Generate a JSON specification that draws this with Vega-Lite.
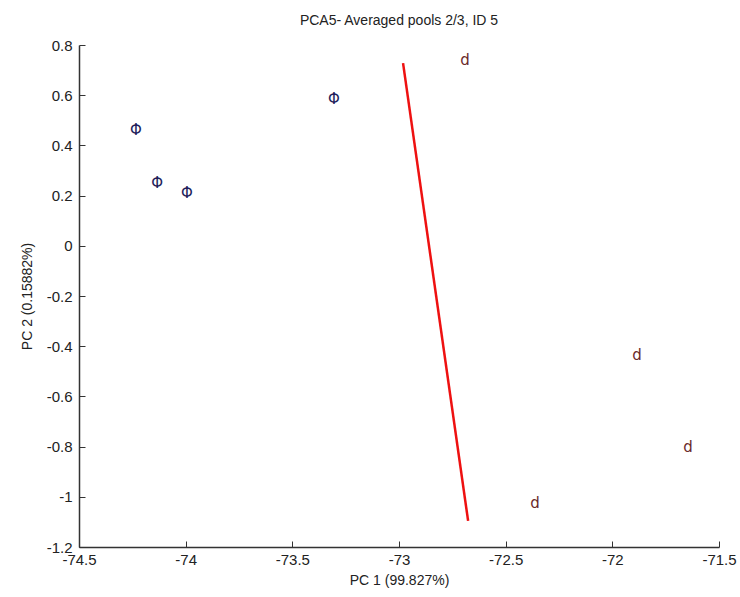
{
  "$schema": "https://vega.github.io/schema/vega-lite/v6.json",
  "width": 640,
  "height": 502,
  "autosize": {"type": "none"},
  "padding": {"left": 79, "top": 45, "right": 21, "bottom": 50},
  "background": "white",
  "title": {"text": "PCA5- Averaged pools 2/3, ID 5", "font": "Liberation Sans", "fontSize": 14, "fontWeight": "normal", "color": "#222222", "offset": 10, "anchor": "middle"},
  "config": {
    "view": {"stroke": null},
    "axis": {
      "labelFont": "Liberation Sans", "labelFontSize": 15, "labelColor": "#222222",
      "titleFont": "Liberation Sans", "titleFontSize": 14, "titleFontWeight": "normal", "titleColor": "#222222",
      "grid": false, "domainColor": "#333333", "domainWidth": 1.5, "tickColor": "#333333",
      "tickSize": -6, "labelOverlap": false, "labelFlush": false,
      "labelExpr": "replace(format(datum.value, '~g'), '\u2212', '-')"
    }
  },
  "datasets": {
    "pts": [
      {"pc1": -74.233, "pc2": 0.461, "group": "A"},
      {"pc1": -74.134, "pc2": 0.250, "group": "A"},
      {"pc1": -73.994, "pc2": 0.210, "group": "A"},
      {"pc1": -73.305, "pc2": 0.585, "group": "A"},
      {"pc1": -72.690, "pc2": 0.740, "group": "B"},
      {"pc1": -71.884, "pc2": -0.435, "group": "B"},
      {"pc1": -71.645, "pc2": -0.802, "group": "B"},
      {"pc1": -72.362, "pc2": -1.025, "group": "B"}
    ],
    "line": [
      {"pc1": -72.981, "pc2": 0.728},
      {"pc1": -72.676, "pc2": -1.096}
    ]
  },
  "layer": [
    {
      "data": {"name": "line"},
      "mark": {"type": "line", "color": "#ee1111", "strokeWidth": 2.5},
      "encoding": {
        "x": {"field": "pc1", "type": "quantitative", "scale": {"domain": [-74.5, -71.5], "nice": false, "zero": false},
              "axis": {"title": "PC 1 (99.827%)", "values": [-74.5, -74, -73.5, -73, -72.5, -72, -71.5], "labelPadding": 11, "titlePadding": 6}},
        "y": {"field": "pc2", "type": "quantitative", "scale": {"domain": [-1.2, 0.8], "nice": false, "zero": false},
              "axis": {"title": "PC 2 (0.15882%)", "values": [-1.2, -1, -0.8, -0.6, -0.4, -0.2, 0, 0.2, 0.4, 0.6, 0.8], "labelPadding": 13, "titlePadding": 12}}
      }
    },
    {
      "data": {"name": "pts"},
      "transform": [{"calculate": "datum.group == 'A' ? 'Φ' : 'd'", "as": "glyph"}],
      "mark": {"type": "text", "font": "DejaVu Sans", "fontSize": 15, "baseline": "middle", "align": "center"},
      "encoding": {
        "x": {"field": "pc1", "type": "quantitative"},
        "y": {"field": "pc2", "type": "quantitative"},
        "text": {"field": "glyph", "type": "nominal"},
        "color": {"field": "group", "type": "nominal", "scale": {"domain": ["A", "B"], "range": ["#1e1e5a", "#6b2a2a"]}, "legend": null}
      }
    }
  ]
}
